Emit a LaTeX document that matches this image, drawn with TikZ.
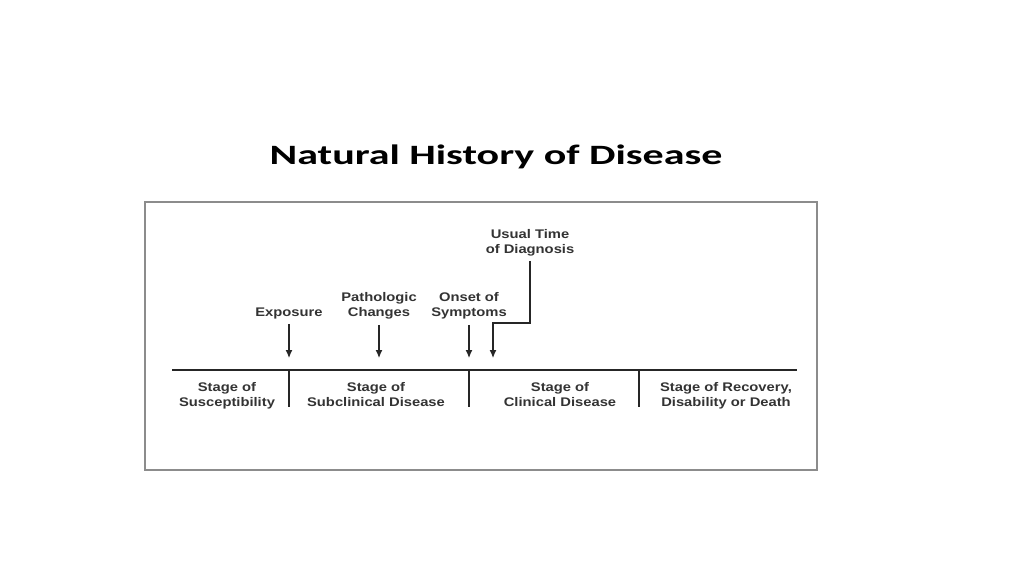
\documentclass[tikz,border=0pt]{standalone}
\usepackage{fontspec}
\setmainfont{Liberation Sans}[FakeStretch=1.18]
\newfontfamily\titlefont{Carlito}[FakeStretch=1.5]
\usetikzlibrary{arrows.meta, positioning}

\begin{document}
\begin{tikzpicture}[x=1pt, y=-1pt,
    label/.style={font=\fontsize{12.5}{15.5}\selectfont\bfseries, text=black!80, align=center, inner sep=0pt},
    stage/.style={label, anchor=north},
    pointer/.style={line width=1.2pt, draw=black!85, -{Latex[length=8pt, width=7pt]}},
    divider/.style={line width=1.6pt, draw=black!85}]
    % Cadre de l'image
    \useasboundingbox (0,0) rectangle (1024,576);
    \draw[line width=1.5pt, black!45] (145,202) rectangle (817,470);

    % Titre
    \node[font=\titlefont\fontsize{28}{32}\selectfont\bfseries] (title) at (496,157) {Natural History of Disease};

    % Ligne du temps
    \coordinate (tstart) at (172,370);
    \coordinate (tend) at (797,370);
    \draw[line width=2pt, black!85] (tstart) -- (tend);

    % Séparations entre les stades
    \coordinate (d1) at (289,370);
    \coordinate (d2) at (469,370);
    \coordinate (d3) at (639,370);
    \foreach \d in {d1, d2, d3}
        \draw[divider] (\d) -- ++(0,37);

    % Stades
    \node[stage] (susc) at (227,382) {Stage of\\Susceptibility};
    \node[stage] (subc) at (376,382) {Stage of\\Subclinical Disease};
    \node[stage] (clin) at (560,382) {Stage of\\Clinical Disease};
    \node[stage] (recov) at (726,382) {Stage of Recovery,\\Disability or Death};

    % Événements au-dessus de la ligne
    \node[label] (expo) at (289,313) {Exposure};
    \node[label] (patho) at (379,306) {Pathologic\\Changes};
    \node[label] (onset) at (469,306) {Onset of\\Symptoms};
    \node[label] (diag) at (530,243) {Usual Time\\of Diagnosis};

    % Flèches
    \coordinate (a1) at (289,358);
    \coordinate (a2) at (379,358);
    \coordinate (a3) at (469,358);
    \coordinate (a4) at (493,358);
    \draw[pointer] (expo.south) ++(0,5) -- (a1);
    \draw[pointer] (patho.south) ++(0,5) -- (a2);
    \draw[pointer] (onset.south) ++(0,5) -- (a3);
    \draw[pointer] (diag.south) ++(0,4) -- (530,323) -- (493,323) -- (a4);
\end{tikzpicture}
\end{document}
